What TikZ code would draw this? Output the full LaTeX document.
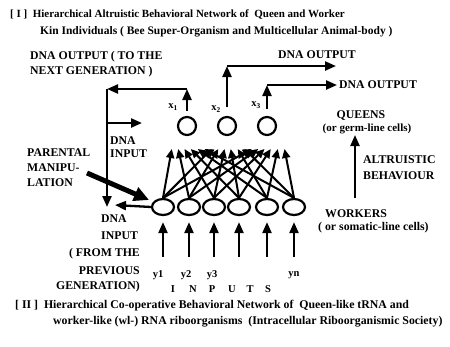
\documentclass[tikz,border=0pt]{standalone}
\usepackage{fontspec}
\setmainfont{Liberation Serif}
\usetikzlibrary{arrows.meta,shapes.geometric}
\begin{document}
\begin{tikzpicture}[x=1pt,y=-1pt,
  lbl/.style={font=\bfseries\fontsize{11.8}{13}\selectfont, inner sep=0pt, anchor=west},
  ttl/.style={font=\bfseries\fontsize{11.5}{13}\selectfont, inner sep=0pt, anchor=west},
  sml/.style={font=\bfseries\fontsize{10.5}{12}\selectfont, inner sep=0pt},
  ar/.style={line width=2.3pt, -{Triangle[length=11pt,width=9pt]}},
  bigar/.style={line width=5pt, -{Triangle[length=15pt,width=14pt]}},
  fan/.style={line width=2pt, -{Triangle[length=9pt,width=8pt]}},
  wk/.style={ellipse, draw, line width=2.2pt, minimum width=22pt, minimum height=16pt, inner sep=0pt},
  qn/.style={circle, draw, line width=2.2pt, minimum size=18pt, inner sep=0pt}]
\useasboundingbox[fill=white] (0,0) rectangle (450,346);

% titles
\node[ttl, font=\bfseries\fontsize{11}{13}\selectfont] (t1) at (10,15) {[ I ]\ \ Hierarchical Altruistic Behavioral Network of\ \ Queen and Worker};
\node[ttl] (t2) at (40,32) {Kin Individuals ( Bee Super-Organism and Multicellular Animal-body )};
\node[lbl] (b1) at (15,306) {[ II ]\ \ Hierarchical Co-operative Behavioral Network of\ \ Queen-like tRNA and};
\node[lbl] (b2) at (53,322) {worker-like (wl-) RNA riboorganisms\ \ (Intracellular Riboorganismic Society)};

% queens
\foreach \j/\qx in {1/187,2/227,3/267} {
  \node[qn] (q\j) at (\qx,126) {};
}
% workers
\foreach \i/\wx in {1/163,2/189,3/214,4/239,5/267,6/294} {
  \node[wk] (w\i) at (\wx,207) {};
  \coordinate (in\i) at (\wx,257);
  \draw[ar, shorten >=6pt] (in\i) -- (w\i.south);
}
% fan of connections
\foreach \i/\wx in {1/163,2/189,3/214,4/239,5/267,6/294} {
  \foreach \j/\qx in {1/187,2/227,3/267} {
    \coordinate (f\i\j) at ({\qx+(\wx-224)*0.25},149);
    \draw[fan] (w\i.north) -- (f\i\j);
  }
}

% outputs
\coordinate (c1) at (187,89);
\coordinate (c0) at (107,89);
\coordinate (c0b) at (107,207);
\coordinate (d0) at (107,123);
\coordinate (d1) at (142,123);
\draw[ar, shorten <=5pt] (q1.north) -- (c1);
\draw[ar] (c1) -- (c0);
\draw[ar] (c0) -- (c0b);
\draw[ar] (d0) -- (d1);

\coordinate (c2) at (227,66);
\coordinate (e2) at (336,66);
\draw[ar, shorten <=9pt] (q2.north) -- (c2);
\draw[ar] (c2) -- (e2);

\coordinate (c3) at (267,85);
\coordinate (e3) at (337,85);
\draw[ar, shorten <=7pt] (q3.north) -- (c3);
\draw[ar] (c3) -- (e3);

\node[sml] (x1) at (173,107) {x\textsubscript{1}};
\node[sml] (x2) at (216,109) {x\textsubscript{2}};
\node[sml] (x3) at (256,105) {x\textsubscript{3}};

% parental manipulation
\coordinate (p0) at (87,173);
\coordinate (p1) at (149,200);
\draw[bigar] (p0) -- (p1);
\coordinate (s1) at (115,205);
\draw[ar] (w1.west) -- (s1);

% altruistic arrow
\coordinate (al0) at (355,198);
\coordinate (al1) at (355,135);
\draw[ar] (al0) -- (al1);

% labels
\node[lbl] (o1) at (30,57) {DNA OUTPUT ( TO THE};
\node[lbl] (o2) at (30,72) {NEXT GENERATION )};
\node[lbl, anchor=center] (o3) at (317,55) {DNA OUTPUT};
\node[lbl] (o4) at (339,85) {DNA OUTPUT};
\node[lbl] (di1) at (110,141) {DNA};
\node[lbl] (di2) at (110,154) {INPUT};
\node[lbl] (pm1) at (27,153) {PARENTAL};
\node[lbl] (pm2) at (27,168) {MANIPU-};
\node[lbl] (pm3) at (27,183) {LATION};
\node[lbl] (dl1) at (101,219) {DNA};
\node[lbl] (dl2) at (101,236) {INPUT};
\node[lbl, anchor=east] (dl3) at (140,254) {( FROM THE};
\node[lbl, anchor=east] (dl4) at (140,271) {PREVIOUS};
\node[lbl, anchor=east] (dl5) at (140,287) {GENERATION)};
\node[lbl, anchor=center] (qu) at (361,116) {QUEENS};
\node[ttl, anchor=center, font=\bfseries\fontsize{11}{13}\selectfont] (qu2) at (367,129) {(or germ-line cells)};
\node[lbl] (al) at (363,160) {ALTRUISTIC};
\node[lbl] (be) at (363,176) {BEHAVIOUR};
\node[lbl] (wo) at (325,214) {WORKERS};
\node[lbl] (wo2) at (318,228) {( or somatic-line cells)};
\node[sml] (y1) at (158,275) {y1};
\node[sml] (y2) at (186,275) {y2};
\node[sml] (y3) at (212,275) {y3};
\node[sml] (yn) at (294,275) {yn};
\foreach \k/\lx/\lt in {1/173/I,2/193/N,3/212/P,4/232/U,5/250/T,6/268/S} {
  \node[sml] (ip\k) at (\lx,289) {\lt};
}
\end{tikzpicture}
\end{document}
